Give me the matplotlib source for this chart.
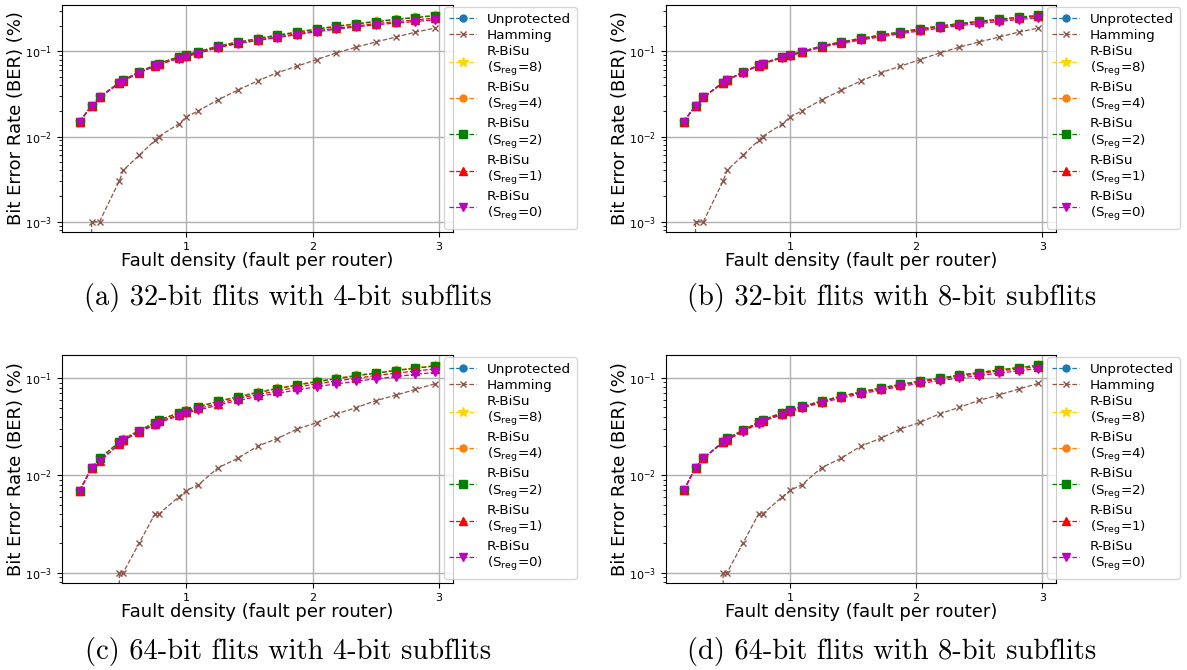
import matplotlib.pyplot as plt

# fault density (faults per router), 64-router mesh
density = [10/64, 16/64, 20/64, 30/64, 32/64, 40/64, 48/64, 50/64, 60/64, 64/64,
           70/64, 80/64, 90/64, 100/64, 110/64, 120/64, 130/64, 140/64, 150/64,
           160/64, 170/64, 180/64, 190/64]

# 32-bit flits
unprot_32 = [0.015, 0.023, 0.029, 0.043, 0.046, 0.057, 0.069, 0.072, 0.086, 0.091, 0.099, 0.116,
             0.129, 0.142, 0.155, 0.169, 0.184, 0.198, 0.212, 0.226, 0.239, 0.252, 0.265]
hamming_32 = [0.0, 0.001, 0.001, 0.003, 0.004, 0.006, 0.009, 0.010, 0.014, 0.017, 0.020, 0.027,
              0.035, 0.045, 0.056, 0.067, 0.080, 0.096, 0.112, 0.129, 0.147, 0.168, 0.188]
a_s8 = [0.015, 0.023, 0.029, 0.043, 0.046, 0.057, 0.069, 0.072, 0.086, 0.091, 0.099, 0.116,
        0.129, 0.142, 0.155, 0.169, 0.184, 0.198, 0.212, 0.226, 0.239, 0.252, 0.265]
a_s4 = [0.015, 0.023, 0.029, 0.043, 0.046, 0.057, 0.069, 0.072, 0.086, 0.091, 0.099, 0.115,
        0.128, 0.141, 0.154, 0.168, 0.183, 0.197, 0.211, 0.224, 0.237, 0.250, 0.263]
a_s2 = [0.015, 0.023, 0.029, 0.043, 0.046, 0.057, 0.069, 0.072, 0.086, 0.091, 0.099, 0.115,
        0.128, 0.141, 0.154, 0.168, 0.182, 0.196, 0.210, 0.223, 0.236, 0.249, 0.262]
a_s1 = [0.015, 0.023, 0.029, 0.042, 0.045, 0.056, 0.068, 0.071, 0.084, 0.089, 0.096, 0.112,
        0.124, 0.136, 0.148, 0.161, 0.175, 0.187, 0.199, 0.212, 0.223, 0.234, 0.246]
a_s0 = [0.015, 0.023, 0.029, 0.042, 0.045, 0.056, 0.067, 0.070, 0.082, 0.087, 0.094, 0.111,
        0.123, 0.134, 0.145, 0.157, 0.170, 0.182, 0.194, 0.205, 0.215, 0.224, 0.234]
b_s8 = [0.015, 0.023, 0.029, 0.043, 0.046, 0.057, 0.069, 0.072, 0.086, 0.091, 0.099, 0.116,
        0.129, 0.142, 0.155, 0.169, 0.184, 0.198, 0.212, 0.226, 0.239, 0.252, 0.265]
b_s4 = [0.015, 0.023, 0.029, 0.043, 0.046, 0.057, 0.069, 0.072, 0.086, 0.091, 0.099, 0.116,
        0.129, 0.142, 0.155, 0.169, 0.184, 0.198, 0.212, 0.225, 0.238, 0.251, 0.264]
b_s2 = [0.015, 0.023, 0.029, 0.043, 0.046, 0.057, 0.069, 0.072, 0.086, 0.091, 0.099, 0.116,
        0.129, 0.142, 0.155, 0.169, 0.184, 0.198, 0.212, 0.225, 0.238, 0.251, 0.264]
b_s1 = [0.015, 0.023, 0.029, 0.043, 0.046, 0.057, 0.068, 0.071, 0.085, 0.090, 0.098, 0.114,
        0.127, 0.139, 0.152, 0.165, 0.180, 0.193, 0.207, 0.220, 0.233, 0.245, 0.258]
b_s0 = [0.015, 0.023, 0.029, 0.043, 0.046, 0.056, 0.068, 0.071, 0.084, 0.089, 0.097, 0.112,
        0.124, 0.136, 0.148, 0.161, 0.174, 0.187, 0.200, 0.212, 0.224, 0.236, 0.248]

# 64-bit flits
unprot_64 = [0.007, 0.012, 0.015, 0.022, 0.024, 0.029, 0.035, 0.037, 0.044, 0.047, 0.051, 0.058,
             0.065, 0.072, 0.079, 0.086, 0.093, 0.100, 0.107, 0.114, 0.121, 0.128, 0.135]
hamming_64 = [0.0, 0.0, 0.0, 0.001, 0.001, 0.002, 0.004, 0.004, 0.006, 0.007, 0.008, 0.012,
              0.015, 0.020, 0.024, 0.030, 0.035, 0.043, 0.050, 0.059, 0.067, 0.077, 0.088]
c_s8 = [0.007, 0.012, 0.015, 0.022, 0.024, 0.029, 0.035, 0.037, 0.044, 0.047, 0.051, 0.058,
        0.065, 0.072, 0.079, 0.086, 0.093, 0.100, 0.107, 0.114, 0.121, 0.128, 0.136]
c_s4 = [0.007, 0.012, 0.015, 0.022, 0.024, 0.029, 0.035, 0.037, 0.044, 0.047, 0.051, 0.058,
        0.065, 0.072, 0.079, 0.086, 0.093, 0.100, 0.107, 0.114, 0.121, 0.128, 0.135]
c_s2 = [0.007, 0.012, 0.015, 0.022, 0.023, 0.029, 0.035, 0.037, 0.044, 0.046, 0.051, 0.058,
        0.064, 0.071, 0.078, 0.085, 0.092, 0.099, 0.106, 0.113, 0.120, 0.127, 0.134]
c_s1 = [0.007, 0.012, 0.014, 0.021, 0.023, 0.028, 0.034, 0.036, 0.042, 0.045, 0.049, 0.055,
        0.062, 0.068, 0.074, 0.081, 0.088, 0.094, 0.100, 0.107, 0.113, 0.119, 0.125]
c_s0 = [0.007, 0.012, 0.014, 0.021, 0.023, 0.028, 0.033, 0.035, 0.041, 0.044, 0.047, 0.053,
        0.059, 0.065, 0.070, 0.076, 0.082, 0.088, 0.093, 0.099, 0.104, 0.110, 0.115]
d_s8 = [0.007, 0.012, 0.015, 0.022, 0.024, 0.029, 0.035, 0.037, 0.044, 0.047, 0.051, 0.058,
        0.065, 0.072, 0.079, 0.086, 0.093, 0.100, 0.107, 0.114, 0.121, 0.128, 0.135]
d_s4 = [0.007, 0.012, 0.015, 0.022, 0.024, 0.029, 0.035, 0.037, 0.044, 0.047, 0.051, 0.058,
        0.065, 0.072, 0.079, 0.086, 0.093, 0.100, 0.107, 0.114, 0.121, 0.128, 0.135]
d_s2 = [0.007, 0.012, 0.015, 0.022, 0.024, 0.029, 0.035, 0.037, 0.044, 0.047, 0.051, 0.058,
        0.065, 0.072, 0.079, 0.086, 0.093, 0.100, 0.107, 0.114, 0.121, 0.128, 0.135]
d_s1 = [0.007, 0.012, 0.015, 0.022, 0.023, 0.029, 0.035, 0.036, 0.043, 0.046, 0.050, 0.057,
        0.064, 0.071, 0.077, 0.084, 0.091, 0.098, 0.104, 0.111, 0.118, 0.124, 0.131]
d_s0 = [0.007, 0.012, 0.015, 0.022, 0.023, 0.028, 0.034, 0.036, 0.042, 0.045, 0.049, 0.056,
        0.062, 0.069, 0.075, 0.082, 0.088, 0.094, 0.100, 0.106, 0.112, 0.119, 0.125]

captions = ["(a) 32-bit flits with 4-bit subflits", "(b) 32-bit flits with 8-bit subflits",
            "(c) 64-bit flits with 4-bit subflits", "(d) 64-bit flits with 8-bit subflits"]

panels = [
    [unprot_32, hamming_32, a_s8, a_s4, a_s2, a_s1, a_s0],
    [unprot_32, hamming_32, b_s8, b_s4, b_s2, b_s1, b_s0],
    [unprot_64, hamming_64, c_s8, c_s4, c_s2, c_s1, c_s0],
    [unprot_64, hamming_64, d_s8, d_s4, d_s2, d_s1, d_s0],
]

labels = ["Unprotected", "Hamming"] + \
    ["R-BiSu\n(S$_{\\rm reg}$=%d)" % s for s in (8, 4, 2, 1, 0)]
styles = [("tab:blue", "o", 5), ("tab:brown", "x", 5), ("gold", "*", 7),
          ("tab:orange", "o", 5), ("green", "s", 5.5), ("red", "^", 5.5), ("m", "v", 5.5)]

W, H = 1187, 670
fig = plt.figure(figsize=(W / 100, H / 100), dpi=100)

# axes boxes in pixels: left, top, right, bottom
boxes = [(62, 5, 453, 232), (666, 5, 1056, 232),
         (62, 355, 453, 583), (666, 355, 1056, 583)]
caption_y = [298, 298, 652, 652]

for i, (series, (l, t, r, b)) in enumerate(zip(panels, boxes)):
    ax = fig.add_axes([l / W, 1 - b / H, (r - l) / W, (b - t) / H])
    for vals, lab, (col, mk, ms) in zip(series, labels, styles):
        ax.plot(density, vals, linestyle="--", linewidth=0.9, color=col,
                marker=mk, markersize=ms, label=lab)
    ax.set_yscale("log")
    ax.set_xticks([1, 2, 3])
    ax.grid(True, color="#b0b0b0", linewidth=1.0)
    ax.tick_params(labelsize=8)
    ax.set_xlabel("Fault density (fault per router)", fontsize=13, labelpad=0)
    ax.set_ylabel("Bit Error Rate (BER) (%)", fontsize=13, labelpad=0)
    ax.legend(loc="upper left", bbox_to_anchor=(1 - 9 / (r - l), 0.99),
              borderaxespad=0, fontsize=9.7, labelspacing=0.22,
              handlelength=2.0, handletextpad=0.8, borderpad=0.4)
    fig.text((l + 226) / W, 1 - caption_y[i] / H, captions[i],
             family="cmr10", fontsize=20.5, ha="center", va="center")

fig.savefig("out.png", dpi=100)
